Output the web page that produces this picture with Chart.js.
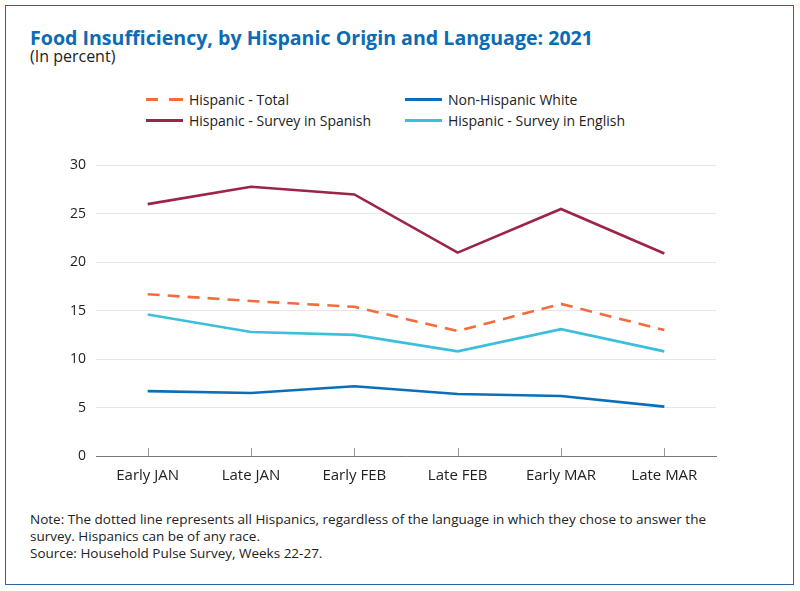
<!DOCTYPE html>
<html>
<head>
<meta charset="utf-8">
<script src="https://cdn.jsdelivr.net/npm/chart.js@4"></script>
<style>
  html, body { margin: 0; padding: 0; background: #fff; }
  body { width: 800px; height: 591px; position: relative; font-family: "Open Sans", sans-serif; color: #222; }
  #frame { position: absolute; left: 5px; top: 5px; width: 787px; height: 578px; border: 1.5px solid #2a62a8; }
  #title { position: absolute; left: 30px; top: 24px; font-size: 19.6px; font-weight: bold; color: #0b6cb5; }
  #subtitle { position: absolute; left: 30px; top: 45px; font-size: 16px; color: #222; }
  .leg { position: absolute; font-size: 14px; color: #222; display: flex; align-items: center; height: 18px; }
  .leg span.sw { display: inline-block; width: 37px; height: 0; margin-right: 6px; }
  #wrap { position: absolute; left: 0; top: 147px; width: 800px; height: 343px; }
  #notes { position: absolute; left: 30px; top: 511px; font-size: 13.5px; line-height: 17px; color: #222; }
</style>
</head>
<body>
<div id="frame"></div>
<div id="title">Food Insufficiency, by Hispanic Origin and Language: 2021</div>
<div id="subtitle">(In percent)</div>
<div id="legend"></div>
<div id="wrap"><canvas id="c"></canvas></div>
<div id="notes">Note: The dotted line represents all Hispanics, regardless of the language in which they chose to answer the<br>survey. Hispanics can be of any race.<br>Source: Household Pulse Survey, Weeks 22-27.</div>
<script>
const categories = ["Early JAN", "Late JAN", "Early FEB", "Late FEB", "Early MAR", "Late MAR"];
const hispanicTotal = [16.7, 16.0, 15.4, 12.9, 15.7, 13.0];
const nonHispanicWhite = [6.7, 6.5, 7.2, 6.4, 6.2, 5.1];
const hispanicSpanish = [26.0, 27.8, 27.0, 21.0, 25.5, 20.9];
const hispanicEnglish = [14.6, 12.8, 12.5, 10.8, 13.1, 10.8];
const yTicks = [0, 5, 10, 15, 20, 25, 30];

const seriesNames = ["Hispanic - Total", "Non-Hispanic White", "Hispanic - Survey in Spanish", "Hispanic - Survey in English"];
const colors = ["#f26d3d", "#0a6fba", "#9c2446", "#3cbfdb"];
const legendPos = [[146, 90], [405, 90], [146, 111], [405, 111]];

const datasets = [hispanicTotal, nonHispanicWhite, hispanicSpanish, hispanicEnglish].map((d, i) => ({
  label: seriesNames[i],
  data: d,
  borderColor: colors[i],
  backgroundColor: colors[i],
  borderWidth: 2.6,
  borderDash: i === 0 ? [12, 8] : [],
  pointRadius: 0,
  tension: 0,
  fill: false
}));

// HTML legend
const legEl = document.getElementById('legend');
seriesNames.forEach((n, i) => {
  const d = document.createElement('div');
  d.className = 'leg';
  d.style.left = legendPos[i][0] + 'px';
  d.style.top = legendPos[i][1] + 'px';
  const sw = document.createElement('span');
  sw.className = 'sw';
  if (i === 0) {
    sw.style.height = '3px';
    sw.style.background = 'linear-gradient(to right, ' + colors[0] + ' 0 12px, transparent 12px 23px, ' + colors[0] + ' 23px 37px)';
  } else {
    sw.style.borderTop = '3px solid ' + colors[i];
  }
  d.appendChild(sw);
  d.appendChild(document.createTextNode(n));
  legEl.appendChild(d);
});

// draws short tick marks upward from the x axis at each category (via the scale)
const upTicks = {
  id: 'upTicks',
  afterDraw(chart) {
    const s = chart.scales.x;
    const ctx = chart.ctx;
    const yb = chart.chartArea.bottom;
    ctx.save();
    ctx.strokeStyle = '#999';
    ctx.lineWidth = 1;
    s.ticks.forEach((t, i) => {
      const x = Math.round(s.getPixelForTick(i)) + 0.5;
      ctx.beginPath();
      ctx.moveTo(x, yb);
      ctx.lineTo(x, yb - 8);
      ctx.stroke();
    });
    ctx.restore();
  }
};

new Chart(document.getElementById('c'), {
  type: 'line',
  data: { labels: categories, datasets: [datasets[2], datasets[0], datasets[3], datasets[1]] },
  options: {
    responsive: true,
    maintainAspectRatio: false,
    animation: false,
    layout: { padding: { left: 0, right: 84, top: 0, bottom: 0 } },
    plugins: { legend: { display: false }, tooltip: { enabled: false } },
    scales: {
      x: {
        offset: true,
        grid: { display: true, drawOnChartArea: false, drawTicks: false, color: '#999', offset: false },
        border: { display: true, color: '#777', width: 1 },
        ticks: { color: '#222', font: { family: 'Open Sans', size: 15 }, padding: 11, maxRotation: 0 },
        afterFit: s => { s.height = 34; }
      },
      y: {
        min: 0, max: 30,
        afterBuildTicks: s => { s.ticks = yTicks.map(v => ({ value: v })); },
        grid: { color: '#e6e6e6', lineWidth: 1, drawTicks: false },
        border: { display: false },
        ticks: { color: '#222', font: { family: 'Open Sans', size: 14 }, padding: 10 },
        afterFit: s => { s.width = 96; }
      }
    }
  },
  plugins: [upTicks]
});
</script>
</body>
</html>
